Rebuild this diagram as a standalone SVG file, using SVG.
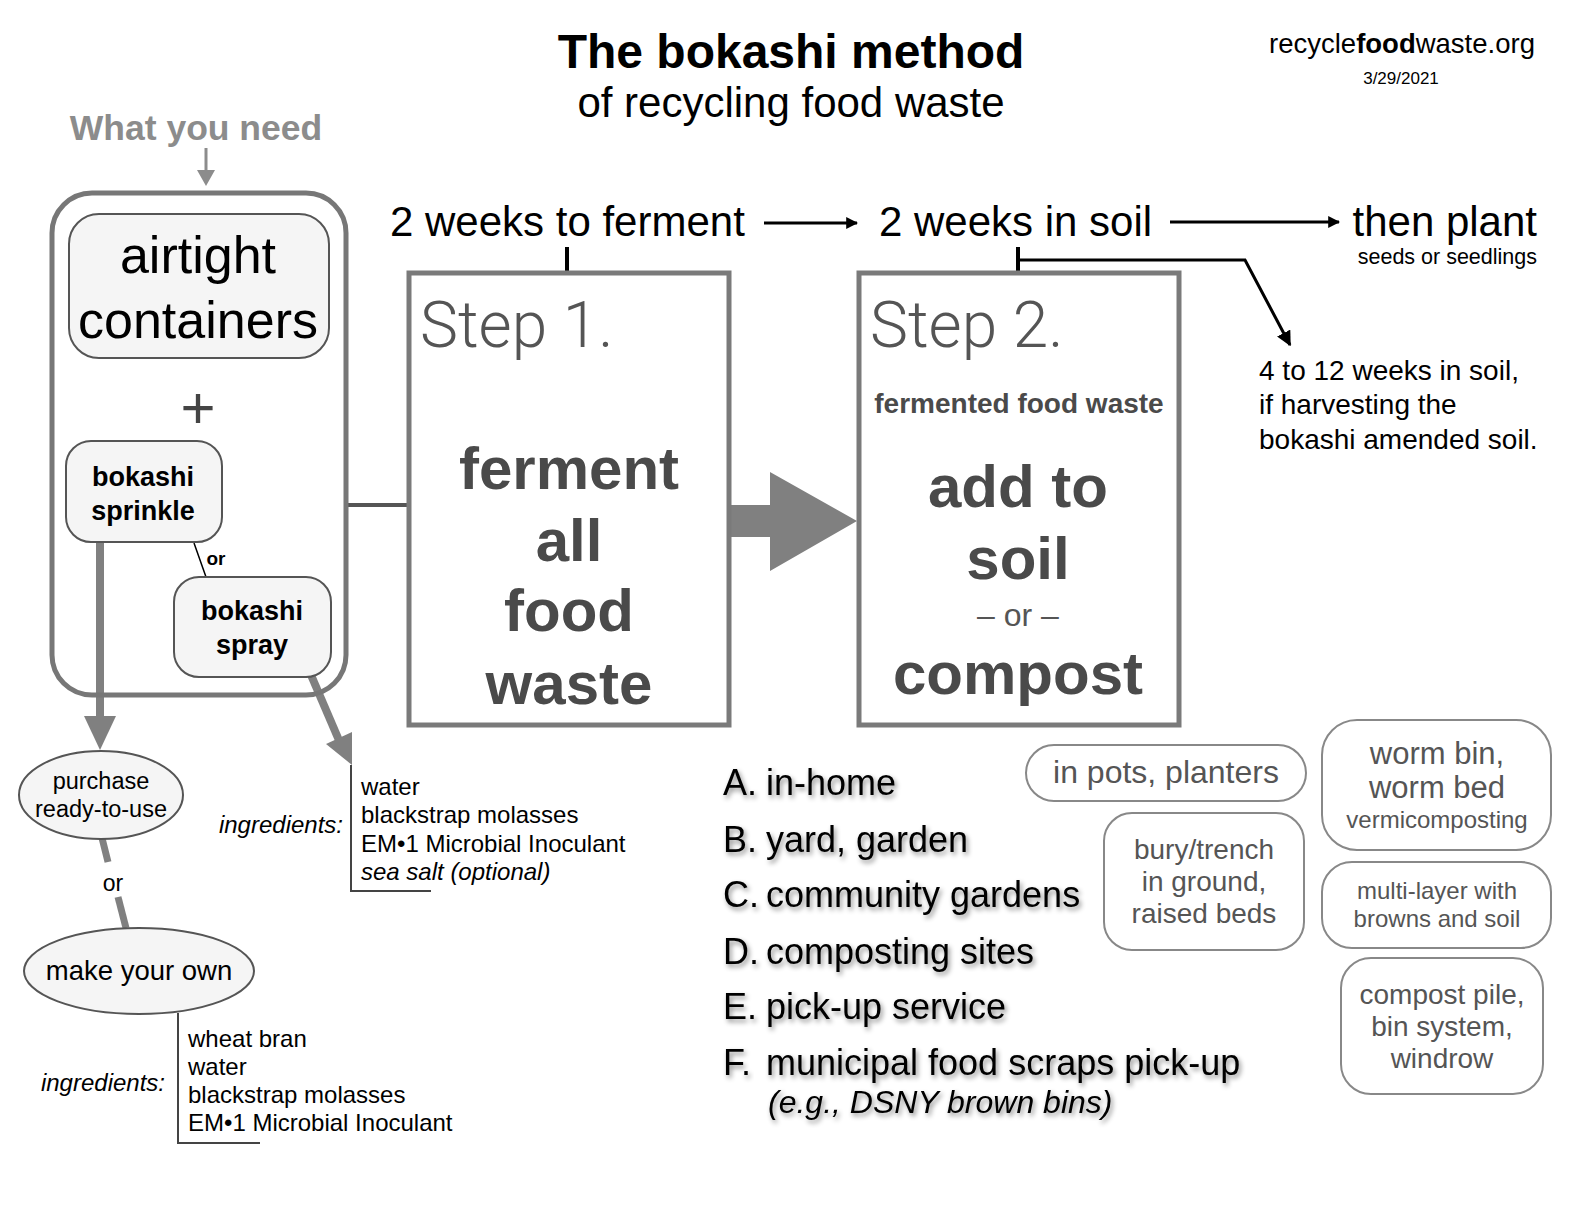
<svg xmlns="http://www.w3.org/2000/svg" width="1584" height="1224" viewBox="0 0 1584 1224">
<style>
text{font-family:"Liberation Sans",Arial,sans-serif;fill:#000}
.b{font-weight:bold}
.i{font-style:italic}
.c{text-anchor:middle}
.box{fill:#f5f5f5;stroke:#555;stroke-width:2}
.opt{fill:#fff;stroke:#888;stroke-width:2}
.optt{fill:#555;text-anchor:middle}
.step{fill:#fff;stroke:#7a7a7a;stroke-width:5}
.steplab{font-family:Roboto,"Liberation Sans",sans-serif;font-weight:300;fill:#555;font-size:64px}
.big{font-weight:bold;fill:#4a4a4a;font-size:60px;text-anchor:middle}
.brk{fill:none;stroke:#444;stroke-width:2}
.list{font-size:36px;filter:url(#sh)}
.ing{font-size:24px}
</style>
<defs>
<marker id="ah" viewBox="0 0 10 10" refX="9" refY="5" markerWidth="4" markerHeight="4" orient="auto"><path d="M0,0L10,5L0,10z" fill="#000"/></marker>
<marker id="ah2" viewBox="0 0 10 10" refX="9" refY="5" markerWidth="5" markerHeight="5" orient="auto"><path d="M0,0L10,5L0,10z" fill="#000"/></marker>
<filter id="sh" x="-10%" y="-30%" width="120%" height="160%"><feDropShadow dx="2" dy="3" stdDeviation="2.5" flood-color="#000" flood-opacity="0.45"/></filter>
</defs>
<rect width="1584" height="1224" fill="#fff"/>

<g id="title">
<text x="791" y="68" class="b c" font-size="48">The bokashi method</text>
<text x="791" y="117" class="c" font-size="42">of recycling food waste</text>
</g>
<g id="site">
<text x="1402" y="53" class="c" font-size="27.5">recycle<tspan font-weight="bold">food</tspan>waste.org</text>
<text x="1401" y="84" class="c" font-size="17">3/29/2021</text>
</g>

<g id="connectors">
<line x1="206" y1="148" x2="206" y2="172" stroke="#8c8c8c" stroke-width="3"/>
<polygon points="197,170 215,170 206,186" fill="#8c8c8c"/>
<line x1="348" y1="505" x2="409" y2="505" stroke="#555" stroke-width="4"/>
<line x1="194" y1="543" x2="206" y2="577" stroke="#000" stroke-width="1.5"/>
<line x1="100" y1="542" x2="100" y2="720" stroke="#808080" stroke-width="8"/>
<polygon points="84,716 116,716 100,750" fill="#808080"/>
<line x1="311" y1="675" x2="341" y2="745" stroke="#808080" stroke-width="8"/>
<polygon points="326,744 352,732 352,765" fill="#808080"/>
<line x1="102" y1="838" x2="108" y2="862" stroke="#808080" stroke-width="7"/>
<line x1="118" y1="897" x2="126" y2="928" stroke="#808080" stroke-width="7"/>
<line x1="764" y1="223" x2="857" y2="223" stroke="#000" stroke-width="3" marker-end="url(#ah)"/>
<line x1="1170" y1="222" x2="1339" y2="222" stroke="#000" stroke-width="3" marker-end="url(#ah)"/>
<line x1="567" y1="247" x2="567" y2="273" stroke="#000" stroke-width="4"/>
<line x1="1018" y1="247" x2="1018" y2="273" stroke="#000" stroke-width="4"/>
<polyline points="1018,260 1245,260 1290,345" fill="none" stroke="#000" stroke-width="3" marker-end="url(#ah2)"/>
<polygon points="729,505 770,505 770,472 857,521 770,571 770,537 729,537" fill="#808080"/>
<path class="brk" d="M351,765V891H431"/>
<path class="brk" d="M178,1013V1143H260"/>
</g>

<g id="need">
<text x="196" y="140" class="b c" font-size="35.5" style="fill:#8c8c8c">What you need</text>
<rect x="52" y="193" width="294" height="502" rx="40" fill="none" stroke="#777" stroke-width="5"/>
</g>
<g id="containers">
<rect class="box" x="69" y="214" width="260" height="144" rx="30"/>
<text x="198" y="273" class="c" font-size="52">airtight</text>
<text x="198" y="338" class="c" font-size="52">containers</text>
</g>
<g id="plus"><text x="198" y="428" class="c" font-size="60" style="fill:#444">+</text></g>
<g id="sprinkle">
<rect class="box" x="66" y="441" width="156" height="101" rx="25"/>
<text x="143" y="486" class="b c" font-size="27">bokashi</text>
<text x="143" y="520" class="b c" font-size="27">sprinkle</text>
</g>
<g id="or1"><text x="216" y="565" class="b c" font-size="19">or</text></g>
<g id="spray">
<rect class="box" x="174" y="577" width="157" height="100" rx="25"/>
<text x="252" y="620" class="b c" font-size="27">bokashi</text>
<text x="252" y="654" class="b c" font-size="27">spray</text>
</g>
<g id="purchase">
<ellipse cx="101" cy="795" rx="82" ry="44" fill="#f5f5f5" stroke="#555" stroke-width="2"/>
<text x="101" y="789" class="c" font-size="23.5">purchase</text>
<text x="101" y="817" class="c" font-size="23.5">ready-to-use</text>
</g>
<g id="or2"><text x="113" y="891" class="c" font-size="23">or</text></g>
<g id="makeown">
<ellipse cx="139" cy="971" rx="115" ry="43" fill="#f5f5f5" stroke="#555" stroke-width="2"/>
<text x="139" y="980" class="c" font-size="27.5">make your own</text>
</g>
<g id="ingredients1">
<text x="343" y="833" class="i ing" text-anchor="end">ingredients:</text>
<text x="361" y="795" class="ing">water</text>
<text x="361" y="823" class="ing">blackstrap molasses</text>
<text x="361" y="852" class="ing">EM•1 Microbial Inoculant</text>
<text x="361" y="880" class="ing i">sea salt (optional)</text>
</g>
<g id="ingredients2">
<text x="165" y="1091" class="i ing" text-anchor="end">ingredients:</text>
<text x="188" y="1047" class="ing">wheat bran</text>
<text x="188" y="1075" class="ing">water</text>
<text x="188" y="1103" class="ing">blackstrap molasses</text>
<text x="188" y="1131" class="ing">EM•1 Microbial Inoculant</text>
</g>

<g id="timeline">
<text x="390" y="236" font-size="42">2 weeks to ferment</text>
<text x="879" y="236" font-size="42">2 weeks in soil</text>
<text x="1537" y="236" font-size="42" text-anchor="end">then plant</text>
<text x="1537" y="264" font-size="21.5" text-anchor="end">seeds or seedlings</text>
</g>

<g id="step1">
<rect class="step" x="409" y="273" width="320" height="452"/>
<text x="420" y="347" class="steplab">Step 1.</text>
<text x="569" y="489" class="big">ferment</text>
<text x="569" y="561" class="big">all</text>
<text x="569" y="631" class="big">food</text>
<text x="569" y="704" class="big">waste</text>
</g>
<g id="step2">
<rect class="step" x="859" y="273" width="320" height="452"/>
<text x="870" y="347" class="steplab">Step 2.</text>
<text x="1019" y="413" class="b c" font-size="28" style="fill:#4a4a4a">fermented food waste</text>
<text x="1018" y="507" class="big">add to</text>
<text x="1018" y="579" class="big">soil</text>
<text x="1018" y="626" class="c" font-size="32" style="fill:#555">– or –</text>
<text x="1018" y="694" class="big">compost</text>
</g>
<g id="harvest">
<text x="1259" y="380" font-size="28">4 to 12 weeks in soil,</text>
<text x="1259" y="414" font-size="28">if harvesting the</text>
<text x="1259" y="449" font-size="28">bokashi amended soil.</text>
</g>

<g id="options">
<text x="723" y="795" class="list">A.</text><text x="766" y="795" class="list">in-home</text>
<text x="723" y="852" class="list">B.</text><text x="766" y="852" class="list">yard, garden</text>
<text x="723" y="907" class="list">C.</text><text x="766" y="907" class="list">community gardens</text>
<text x="723" y="964" class="list">D.</text><text x="766" y="964" class="list">composting sites</text>
<text x="723" y="1019" class="list">E.</text><text x="766" y="1019" class="list">pick-up service</text>
<text x="723" y="1075" class="list">F.</text><text x="766" y="1075" class="list">municipal food scraps pick-up</text>
<text x="768" y="1113" class="list i" style="font-size:32px">(e.g., DSNY brown bins)</text>
</g>

<g id="pots">
<rect class="opt" x="1026" y="745" width="280" height="56" rx="28"/>
<text x="1166" y="783" class="optt" font-size="32">in pots, planters</text>
</g>
<g id="bury">
<rect class="opt" x="1104" y="813" width="200" height="137" rx="28"/>
<text x="1204" y="859" class="optt" font-size="28">bury/trench</text>
<text x="1204" y="891" class="optt" font-size="28">in ground,</text>
<text x="1204" y="923" class="optt" font-size="28">raised beds</text>
</g>
<g id="worm">
<rect class="opt" x="1322" y="720" width="229" height="130" rx="35"/>
<text x="1437" y="764" class="optt" font-size="31">worm bin,</text>
<text x="1437" y="798" class="optt" font-size="31">worm bed</text>
<text x="1437" y="828" class="optt" font-size="24">vermicomposting</text>
</g>
<g id="multilayer">
<rect class="opt" x="1322" y="862" width="229" height="86" rx="30"/>
<text x="1437" y="899" class="optt" font-size="24">multi-layer with</text>
<text x="1437" y="927" class="optt" font-size="24">browns and soil</text>
</g>
<g id="pile">
<rect class="opt" x="1341" y="958" width="202" height="136" rx="30"/>
<text x="1442" y="1004" class="optt" font-size="28">compost pile,</text>
<text x="1442" y="1036" class="optt" font-size="28">bin system,</text>
<text x="1442" y="1068" class="optt" font-size="28">windrow</text>
</g>
</svg>
